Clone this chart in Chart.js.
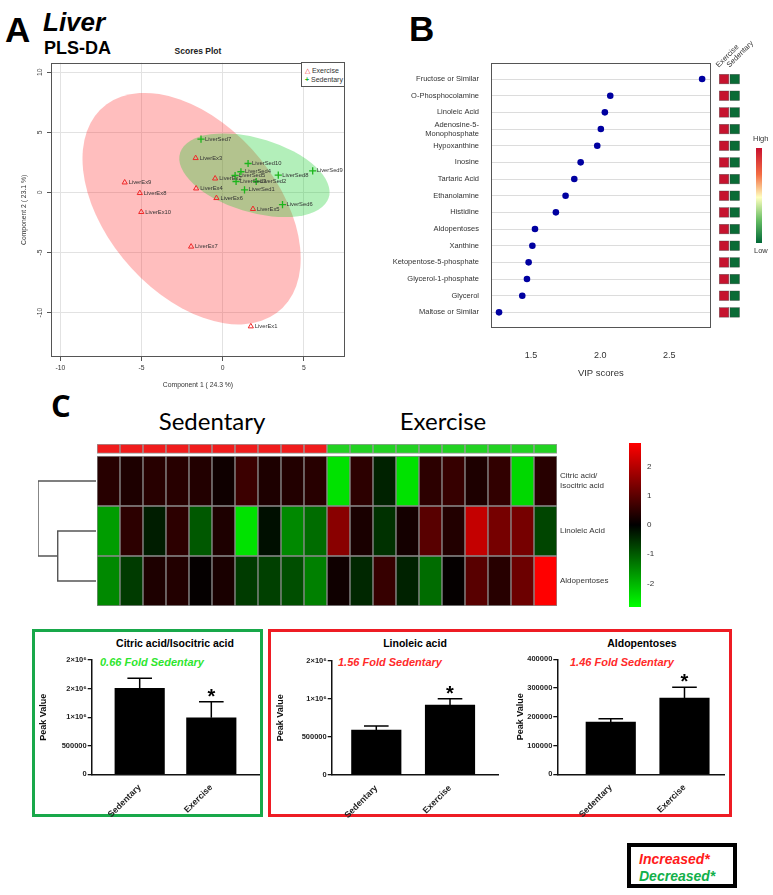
<!DOCTYPE html>
<html>
<head>
<meta charset="utf-8">
<title>Liver PLS-DA</title>
<script src="https://cdn.jsdelivr.net/npm/chart.js@4.4.1/dist/chart.umd.min.js"></script>
<style>
  body { margin: 0; background: #fff; }
  #page { position: relative; width: 773px; height: 895px; overflow: hidden; font-family: Arial, "Liberation Sans", sans-serif; color: #000; }
  #page canvas, #page .t, #page .box { position: absolute; }
  .t { white-space: nowrap; line-height: 1; }
  .c { transform: translateX(-50%); }
</style>
</head>
<body>
<div id="page">
  <!-- panel A headings -->
  <div class="t" style="left:5px;top:12px;font-size:35px;font-weight:bold">A</div>
  <div class="t" style="left:43px;top:9px;font-size:26px;font-weight:bold;font-style:italic">Liver</div>
  <div class="t" style="left:44px;top:39px;font-size:18px;font-weight:bold">PLS-DA</div>
  <div class="t c" style="left:198px;top:47px;font-size:8.5px;font-weight:bold;color:#222">Scores Plot</div>

  <!-- panel B headings -->
  <div class="t" style="left:409px;top:11px;font-size:35px;font-weight:bold">B</div>

  <!-- panel C headings -->
  <div class="t" style="left:51px;top:390px;font-size:31px;font-weight:bold;font-family:'Open Sans',sans-serif">C</div>
  <div class="t c" style="left:212px;top:409px;font-size:24px;font-family:Lato,sans-serif">Sedentary</div>
  <div class="t c" style="left:443px;top:409px;font-size:24px;font-family:Lato,sans-serif">Exercise</div>

  <canvas id="scores" width="355" height="392" style="left:0;top:0"></canvas>
  <div class="box" style="left:301px;top:62px;width:44px;height:25px;border:1px solid #555;background:#fff;box-sizing:border-box;font-size:7px;line-height:9px;padding:3px 0 0 3px;color:#333">
    <span style="color:#f03030">&#9651;</span> Exercise<br><span style="color:#20b020;font-weight:bold">+</span> Sedentary
  </div>

  <canvas id="vip" width="413" height="390" style="left:360px;top:0"></canvas>
  <div class="t" style="left:753px;top:135px;font-size:7.5px;color:#333">High</div>
  <div class="box" style="left:756px;top:148px;width:6px;height:95px;background:linear-gradient(#c8102e,#f46d43 28%,#ffffbf 52%,#66bd63 76%,#006837)"></div>
  <div class="t" style="left:754px;top:247px;font-size:7.5px;color:#333">Low</div>

  <canvas id="dendro" width="58" height="150" style="left:38px;top:456px"></canvas>
  <canvas id="heat" width="522" height="162" style="left:97px;top:444px"></canvas>
  <canvas id="zbar" width="40" height="164" style="left:629px;top:443px"></canvas>

  <!-- bar chart panels -->
  <div class="box" style="left:32px;top:629px;width:231px;height:188px;border:3.5px solid #18a84a;box-sizing:border-box"></div>
  <div class="box" style="left:268px;top:629px;width:464px;height:188px;border:3.5px solid #ee1c24;box-sizing:border-box"></div>
  <div class="t c" style="left:175px;top:638px;font-size:10.5px;font-weight:bold">Citric acid/Isocitric acid</div>
  <div class="t c" style="left:415px;top:638px;font-size:10.5px;font-weight:bold">Linoleic acid</div>
  <div class="t c" style="left:642px;top:638px;font-size:10.5px;font-weight:bold">Aldopentoses</div>
  <div class="t" style="left:100px;top:657px;font-size:11px;font-weight:bold;font-style:italic;color:#2ee62e">0.66 Fold Sedentary</div>
  <div class="t" style="left:338px;top:657px;font-size:11px;font-weight:bold;font-style:italic;color:#ff2a2a">1.56 Fold Sedentary</div>
  <div class="t" style="left:570px;top:657px;font-size:11px;font-weight:bold;font-style:italic;color:#ff2a2a">1.46 Fold Sedentary</div>
  <canvas id="bar1" width="226" height="190" style="left:35px;top:635px"></canvas>
  <canvas id="bar2" width="228" height="190" style="left:272px;top:635px"></canvas>
  <canvas id="bar3" width="214" height="190" style="left:512px;top:635px"></canvas>

  <div class="box" style="left:627px;top:843px;width:110px;height:45px;border:4px solid #000;box-sizing:border-box;font-size:14px;font-weight:bold;font-style:italic;line-height:17px;padding:4px 0 0 8px">
    <span style="color:#ff1a1a">Increased*</span><br><span style="color:#12b04a">Decreased*</span>
  </div>
</div>

<script>
// ---------- A: PLS-DA scores ----------
const exNames = ["LiverEx1", "LiverEx2", "LiverEx3", "LiverEx4", "LiverEx5", "LiverEx6", "LiverEx7", "LiverEx8", "LiverEx9", "LiverEx10"];
const exComp1 = [1.73, -0.47, -1.67, -1.64, 1.86, -0.39, -1.95, -5.11, -6.04, -5.02];
const exComp2 = [-11.15, 1.16, 2.86, 0.33, -1.38, -0.47, -4.51, -0.05, 0.83, -1.63];
const sedNames = ["LiverSed1", "LiverSed2", "LiverSed3", "LiverSed4", "LiverSed5", "LiverSed6", "LiverSed7", "LiverSed8", "LiverSed9", "LiverSed10"];
const sedComp1 = [1.34, 2.06, 0.82, 1.12, 0.76, 3.68, -1.34, 3.42, 5.54, 1.56];
const sedComp2 = [0.22, 0.91, 0.91, 1.72, 1.41, -1.02, 4.43, 1.44, 1.80, 2.41];
const scoreTicksX = [-10, -5, 0, 5];
const scoreTicksY = [-10, -5, 0, 5, 10];
// 95% regions: centre, semi-axis 1, semi-axis 2 (component units)
const exEllipse = [[-1.92, -1.35], [5.23, -8.69], [-4.22, -4.16]];
const sedEllipse = [[1.95, 1.43], [4.57, -1.90], [-0.74, -2.92]];

// ---------- B: VIP scores ----------
const vipNames = ["Fructose or Similar", "O-Phosphocolamine", "Linoleic Acid", "Adenosine-5-\nMonophosphate", "Hypoxanthine", "Inosine", "Tartaric Acid", "Ethanolamine", "Histidine", "Aldopentoses", "Xanthine", "Ketopentose-5-phosphate", "Glycerol-1-phosphate", "Glycerol", "Maltose or Similar"];
const vipScores = [2.737, 2.073, 2.034, 2.005, 1.979, 1.859, 1.813, 1.750, 1.680, 1.529, 1.510, 1.483, 1.471, 1.437, 1.269];
const vipTicks = [1.5, 2.0, 2.5];
const exerciseLevel = [1, 1, 1, 1, 1, 1, 1, 1, 1, 1, 1, 1, 1, 1, 1];
const sedentaryLevel = [0, 0, 0, 0, 0, 0, 0, 0, 0, 0, 0, 0, 0, 0, 0];

// ---------- C: heatmap ----------
const heatSamples = ["S1", "S2", "S3", "S4", "S5", "S6", "S7", "S8", "S9", "S10", "E1", "E2", "E3", "E4", "E5", "E6", "E7", "E8", "E9", "E10"];
const heatGroups = ["Sed", "Sed", "Sed", "Sed", "Sed", "Sed", "Sed", "Sed", "Sed", "Sed", "Ex", "Ex", "Ex", "Ex", "Ex", "Ex", "Ex", "Ex", "Ex", "Ex"];
const heatRows = ["Citric acid/\nIsocitric acid", "Linoleic Acid", "Aldopentoses"];
const citricZ = [0.4, 0.3, 0.4, 0.4, 0.35, 0.15, 0.6, 0.3, 0.35, 0.4, -2.3, 0.45, -0.35, -2.3, 0.45, 0.55, 0.3, 0.5, -2.2, 0.4];
const linoleicZ = [-1.6, 0.45, -0.3, 0.45, -0.9, 0.3, -2.3, -0.15, -1.4, -1.1, 1.4, 0.25, -0.5, 0.2, 0.9, 0.35, 2.0, 1.2, 1.2, -0.7];
const aldoZ = [-1.4, -0.6, 0.3, 0.35, 0.05, 0.25, -0.6, -0.65, -0.8, -1.3, 0.15, -0.4, 0.55, -0.35, -1.1, 0.05, 0.9, 0.4, 1.1, 2.6];
const zTicks = [2, 1, 0, -1, -2];
const dendroHeights = [0.66, 1.0];

// ---------- C: bar charts ----------
const barGroups = ["Sedentary", "Exercise"];
const starred = [false, true];
const citricMean = [1505000, 990000];
const citricSem = [175000, 280000];
const citricTicks = [0, 500000, 1000000, 1500000, 2000000];
const citricTickText = ["0", "500000", "1\u00d710\u2076", "2\u00d710\u2076", "2\u00d710\u2076"];
const linoMean = [590000, 919000];
const linoSem = [53000, 81000];
const linoTicks = [0, 500000, 1000000, 1500000];
const linoTickText = ["0", "500000", "1\u00d710\u2076", "2\u00d710\u2076"];
const aldoMean = [182000, 265000];
const aldoSem = [11000, 38000];
const aldoTicks = [0, 100000, 200000, 300000, 400000];
const aldoTickText = ["0", "100000", "200000", "300000", "400000"];

Chart.defaults.font.family = 'Arial, "Liberation Sans", sans-serif';
Chart.defaults.animation = false;
Chart.defaults.plugins.legend.display = false;
Chart.defaults.plugins.tooltip.enabled = false;

function noPad(s) {
    s.paddingTop = 0; s.paddingBottom = 0; s.paddingLeft = 0; s.paddingRight = 0;
}

function heatColor(v) {
    const t = Math.min(Math.abs(v) / 2.6, 1);
    const c = Math.round(255 * t);
    return v >= 0 ? `rgb(${c},0,0)` : `rgb(0,${c},0)`;
}

const framePlugin = {
    id: "frame",
    afterDraw(chart) {
        const { left, top, right, bottom } = chart.chartArea;
        const ctx = chart.ctx;
        ctx.save();
        ctx.strokeStyle = "#555";
        ctx.lineWidth = 1;
        ctx.strokeRect(Math.round(left) + 0.5, Math.round(top) + 0.5, Math.round(right - left) - 1, Math.round(bottom - top) - 1);
        ctx.restore();
    }
};

// ---------- A ----------
const ellipsePlugin = {
    id: "ellipses",
    beforeDatasetsDraw(chart) {
        const { ctx, chartArea, scales: { x, y } } = chart;
        const regions = [[exEllipse, "rgba(255,40,40,0.3)"], [sedEllipse, "rgba(20,205,40,0.32)"]];
        ctx.save();
        ctx.beginPath();
        ctx.rect(chartArea.left, chartArea.top, chartArea.right - chartArea.left, chartArea.bottom - chartArea.top);
        ctx.clip();
        regions.forEach(([e, colour]) => {
            const cx = x.getPixelForValue(e[0][0]);
            const cy = y.getPixelForValue(e[0][1]);
            const ax = x.getPixelForValue(e[0][0] + e[1][0]) - cx;
            const ay = y.getPixelForValue(e[0][1] + e[1][1]) - cy;
            const bx = x.getPixelForValue(e[0][0] + e[2][0]) - cx;
            const by = y.getPixelForValue(e[0][1] + e[2][1]) - cy;
            ctx.save();
            ctx.transform(ax, ay, bx, by, cx, cy);
            ctx.beginPath();
            ctx.arc(0, 0, 1, 0, Math.PI * 2);
            ctx.restore();
            ctx.fillStyle = colour;
            ctx.fill();
        });
        ctx.restore();
    }
};

const pointNamePlugin = {
    id: "pointNames",
    afterDatasetsDraw(chart) {
        const ctx = chart.ctx;
        ctx.save();
        ctx.font = "5.8px Arial";
        ctx.fillStyle = "#333";
        ctx.textBaseline = "middle";
        chart.data.datasets.forEach((ds, i) => {
            chart.getDatasetMeta(i).data.forEach((pt, j) => {
                ctx.fillText(ds.names[j], pt.x + 4, pt.y);
            });
        });
        ctx.restore();
    }
};

const verticalTickLabels = {
    id: "verticalTickLabels",
    afterDraw(chart) {
        const s = chart.scales.y;
        const ctx = chart.ctx;
        ctx.save();
        ctx.font = "6.8px Arial";
        ctx.fillStyle = "#333";
        ctx.textAlign = "center";
        ctx.textBaseline = "middle";
        s.ticks.forEach(t => {
            ctx.save();
            ctx.translate(chart.chartArea.left - 11, s.getPixelForValue(t.value));
            ctx.rotate(-Math.PI / 2);
            ctx.fillText(String(t.value), 0, 0);
            ctx.restore();
        });
        ctx.restore();
    }
};

new Chart(document.getElementById("scores"), {
    type: "scatter",
    data: {
        datasets: [
            {
                label: "Exercise",
                data: exComp1.map((v, i) => ({ x: v, y: exComp2[i] })),
                names: exNames,
                pointStyle: "triangle",
                pointRadius: 3,
                borderColor: "#f02828",
                backgroundColor: "rgba(0,0,0,0)",
                borderWidth: 1
            },
            {
                label: "Sedentary",
                data: sedComp1.map((v, i) => ({ x: v, y: sedComp2[i] })),
                names: sedNames,
                pointStyle: "cross",
                pointRadius: 3.6,
                borderColor: "#1cb51c",
                borderWidth: 1.3
            }
        ]
    },
    options: {
        responsive: false,
        layout: { padding: { top: 62.7, right: 10, left: 0, bottom: 0 } },
        scales: {
            x: {
                min: -10.58, max: 7.53,
                afterBuildTicks: s => { s.ticks = scoreTicksX.map(v => ({ value: v })); },
                afterFit: s => { s.height = 35; noPad(s); },
                grid: { color: "#e2e2e2", tickColor: "#555", tickLength: 4 },
                border: { display: false },
                ticks: { font: { size: 6.8 }, color: "#333", padding: 3 },
                title: { display: true, text: "Component 1 ( 24.3 %)", font: { size: 6.8 }, color: "#333", padding: { top: 0, bottom: 3 } }
            },
            y: {
                min: -13.7, max: 10.8,
                afterBuildTicks: s => { s.ticks = scoreTicksY.map(v => ({ value: v })); },
                afterFit: s => { s.width = 51; noPad(s); },
                grid: { color: "#e2e2e2", tickColor: "#555", tickLength: 4 },
                border: { display: false },
                ticks: { display: false },
                title: { display: true, text: "Component 2 ( 23.1 %)", font: { size: 6.8 }, color: "#333", padding: { top: 19.8, bottom: 0 } }
            }
        }
    },
    plugins: [ellipsePlugin, pointNamePlugin, verticalTickLabels, framePlugin]
});

// ---------- B ----------
const levelSquares = {
    id: "levelSquares",
    afterDraw(chart) {
        const { ctx, chartArea, scales: { y } } = chart;
        const colours = ["#0a6b36", "#c6132e"];
        ctx.save();
        vipNames.forEach((n, i) => {
            const py = y.getPixelForValue(i);
            [exerciseLevel[i], sedentaryLevel[i]].forEach((lvl, k) => {
                const px = chartArea.right + 8.6 + k * 10.7;
                ctx.fillStyle = colours[lvl];
                ctx.fillRect(px, py - 4.7, 9.5, 9.5);
                ctx.strokeStyle = "rgba(60,60,60,0.6)";
                ctx.lineWidth = 0.6;
                ctx.strokeRect(px, py - 4.7, 9.5, 9.5);
            });
        });
        ctx.font = "7.5px Arial";
        ctx.fillStyle = "#333";
        ["Exercise", "Sedentary"].forEach((txt, k) => {
            ctx.save();
            ctx.translate(chartArea.right + 8.6 + k * 10.7 - 0.5, chartArea.top + 5);
            ctx.rotate(-Math.PI / 4);
            ctx.fillText(txt, 0, 0);
            ctx.restore();
        });
        ctx.restore();
    }
};

new Chart(document.getElementById("vip"), {
    type: "scatter",
    data: {
        datasets: [{
            data: vipScores.map((v, i) => ({ x: v, y: i })),
            pointRadius: 3.3,
            backgroundColor: "#0000a0",
            borderWidth: 0
        }]
    },
    options: {
        responsive: false,
        layout: { padding: { top: 62.7, right: 62.3, left: 0, bottom: 0 } },
        scales: {
            x: {
                min: 1.211, max: 2.799,
                afterBuildTicks: s => { s.ticks = vipTicks.map(v => ({ value: v })); },
                afterFit: s => { s.height = 62.3; noPad(s); },
                grid: { display: false },
                border: { display: false },
                ticks: { font: { size: 9 }, color: "#333", padding: 14, callback: v => v.toFixed(1) },
                title: { display: true, text: "VIP scores", font: { size: 9.5 }, color: "#333", padding: { top: 0, bottom: 10.5 } }
            },
            y: {
                reverse: true,
                min: -0.98, max: 14.92,
                afterBuildTicks: s => { s.ticks = vipNames.map((n, i) => ({ value: i })); },
                afterFit: s => { s.width = 131; noPad(s); },
                grid: { color: "#dcdcdc", drawTicks: false },
                border: { display: false },
                ticks: { autoSkip: false, font: { size: 7.5 }, color: "#333", padding: 12, callback: v => vipNames[v].split("\n") }
            }
        }
    },
    plugins: [framePlugin, levelSquares]
});

// ---------- C: dendrogram ----------
const leafY = [2.5, 1.5, 0.5]; // citric, linoleic, aldopentoses rows
const joinY = (leafY[1] + leafY[2]) / 2;
new Chart(document.getElementById("dendro"), {
    type: "scatter",
    data: {
        datasets: [
            { data: [{ x: 0, y: leafY[1] }, { x: dendroHeights[0], y: leafY[1] }, { x: dendroHeights[0], y: leafY[2] }, { x: 0, y: leafY[2] }] },
            { data: [{ x: 0, y: leafY[0] }, { x: dendroHeights[1], y: leafY[0] }, { x: dendroHeights[1], y: joinY }, { x: dendroHeights[0], y: joinY }] }
        ].map(d => Object.assign(d, { showLine: true, pointRadius: 0, borderColor: "#555", borderWidth: 1.4, clip: false }))
    },
    options: {
        responsive: false,
        layout: { padding: 0 },
        scales: {
            x: { display: false, reverse: true, min: 0, max: 1.0 },
            y: { display: false, min: 0, max: 3 }
        }
    }
});

// ---------- C: heatmap ----------
const rowStyle = { borderColor: "#8c8c8c", borderWidth: 1, borderSkipped: false, categoryPercentage: 1, barPercentage: 1, stack: "h" };
new Chart(document.getElementById("heat"), {
    type: "bar",
    data: {
        labels: heatSamples,
        datasets: [
            Object.assign({ data: aldoZ.map(() => 1), backgroundColor: aldoZ.map(heatColor) }, rowStyle),
            Object.assign({ data: linoleicZ.map(() => 1), backgroundColor: linoleicZ.map(heatColor) }, rowStyle),
            Object.assign({ data: citricZ.map(() => 1), backgroundColor: citricZ.map(heatColor) }, rowStyle),
            Object.assign({}, rowStyle, { data: heatSamples.map(() => 0.054), backgroundColor: "rgba(0,0,0,0)", borderWidth: 0 }),
            Object.assign({}, rowStyle, { data: heatSamples.map(() => 0.186), backgroundColor: heatGroups.map(g => g === "Sed" ? "#f01c1c" : "#22d222"), borderColor: "#9a9a9a" })
        ]
    },
    options: {
        responsive: false,
        layout: { padding: 0 },
        scales: {
            x: { display: false, stacked: true },
            y: {
                stacked: true,
                position: "right",
                min: 0, max: 3.24,
                afterBuildTicks: s => { s.ticks = leafY.map(v => ({ value: v })); },
                afterFit: s => { s.width = 62; noPad(s); },
                grid: { display: false, drawTicks: false },
                border: { display: false },
                ticks: { font: { size: 8 }, color: "#333", padding: 3, callback: v => heatRows[leafY.indexOf(v)].split("\n") }
            }
        }
    }
});

// colour key
new Chart(document.getElementById("zbar"), {
    type: "bar",
    data: {
        labels: [""],
        datasets: [{
            data: [[-2.8, 2.8]],
            categoryPercentage: 1,
            barPercentage: 1,
            backgroundColor: c => {
                const a = c.chart.chartArea;
                if (!a) return "#000";
                const g = c.chart.ctx.createLinearGradient(0, a.top, 0, a.bottom);
                g.addColorStop(0, "#ff0000");
                g.addColorStop(0.5, "#000000");
                g.addColorStop(1, "#00ff00");
                return g;
            }
        }]
    },
    options: {
        responsive: false,
        layout: { padding: 0 },
        scales: {
            x: { display: false },
            y: {
                position: "right",
                min: -2.8, max: 2.8,
                afterBuildTicks: s => { s.ticks = zTicks.map(v => ({ value: v })); },
                afterFit: s => { s.width = 28; noPad(s); },
                grid: { display: false, drawTicks: false },
                border: { display: false },
                ticks: { font: { size: 8 }, color: "#333", padding: 6 }
            }
        }
    }
});

// ---------- C: bar charts with SEM ----------
const errorBars = {
    id: "errorBars",
    afterDatasetsDraw(chart) {
        const { ctx, scales: { y } } = chart;
        const ds = chart.data.datasets[0];
        chart.getDatasetMeta(0).data.forEach((bar, i) => {
            const top = y.getPixelForValue(ds.means[i] + ds.sems[i]);
            ctx.save();
            ctx.strokeStyle = "#000";
            ctx.lineWidth = 1.5;
            ctx.beginPath();
            ctx.moveTo(bar.x, bar.y);
            ctx.lineTo(bar.x, top);
            ctx.moveTo(bar.x - 12.3, top);
            ctx.lineTo(bar.x + 12.3, top);
            ctx.stroke();
            if (starred[i]) {
                ctx.fillStyle = "#000";
                ctx.font = "bold 20px Arial";
                ctx.textAlign = "center";
                ctx.textBaseline = "alphabetic";
                ctx.fillText("*", bar.x, top + 1);
            }
            ctx.restore();
        });
    }
};

function makeBarChart(id, means, sems, ticks, tickText, layout) {
    return new Chart(document.getElementById(id), {
        type: "bar",
        data: {
            datasets: [{
                data: means.map((m, i) => ({ x: i, y: m })),
                means: means,
                sems: sems,
                backgroundColor: "#000",
                barThickness: 49.5
            }]
        },
        options: {
            responsive: false,
            layout: { padding: { top: layout.top, right: 1.7, left: 0, bottom: 0 } },
            scales: {
                x: {
                    type: "linear",
                    offset: false,
                    min: layout.xmin, max: layout.xmax,
                    afterBuildTicks: s => { s.ticks = barGroups.map((g, i) => ({ value: i })); },
                    afterFit: s => { s.height = layout.xh + 10; noPad(s); },
                    grid: { display: false, offset: false },
                    border: { color: "#111", width: 1.5 },
                    ticks: { font: { size: 8.8, weight: "bold" }, color: "#222", padding: 0, minRotation: 45, maxRotation: 45, autoSkip: false, callback: v => barGroups[v] }
                },
                y: {
                    min: 0, max: ticks[ticks.length - 1],
                    afterBuildTicks: s => { s.ticks = ticks.map(v => ({ value: v })); },
                    afterFit: s => { s.width = layout.yw; noPad(s); },
                    grid: { drawOnChartArea: false, tickLength: 4, tickColor: "#111", lineWidth: 1.3 },
                    border: { color: "#111", width: 1.5 },
                    ticks: { font: { size: 7.5, weight: "bold" }, color: "#222", padding: 1, callback: v => tickText[ticks.indexOf(v)] },
                    title: { display: true, text: "Peak Value", font: { size: 9, weight: "bold" }, color: "#111", padding: { top: 2.8, bottom: 0 } }
                }
            }
        },
        plugins: [errorBars]
    });
}

makeBarChart("bar1", citricMean, citricSem, citricTicks, citricTickText, { top: 25, xh: 40.7, yw: 56.7, xmin: -0.67, xmax: 1.67 });
makeBarChart("bar2", linoMean, linoSem, linoTicks, linoTickText, { top: 25.7, xh: 40, yw: 59.7, xmin: -0.605, xmax: 1.655 });
makeBarChart("bar3", aldoMean, aldoSem, aldoTicks, aldoTickText, { top: 24.3, xh: 40.7, yw: 45.3, xmin: -0.725, xmax: 1.54 });
</script>
</body>
</html>
